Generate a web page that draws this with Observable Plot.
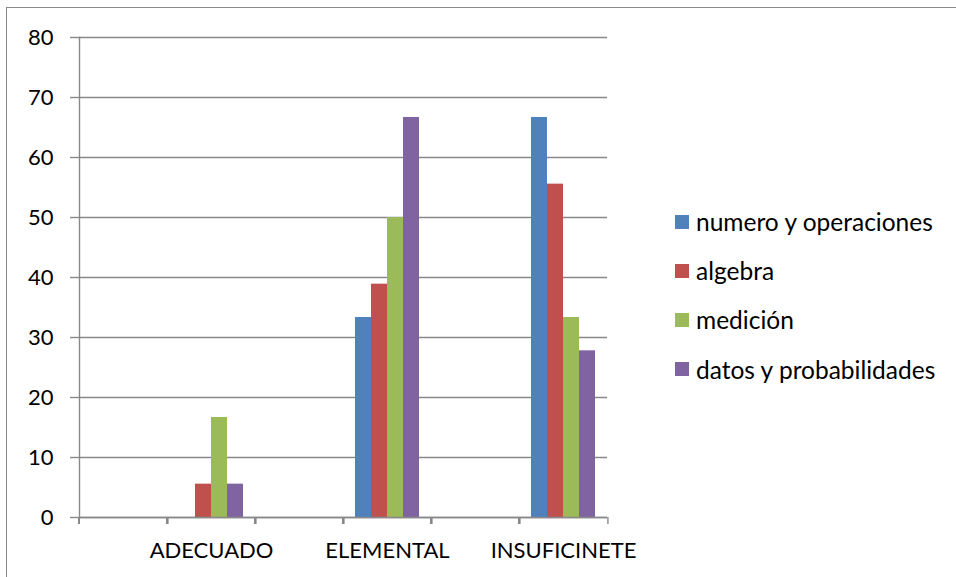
<!DOCTYPE html>
<html>
<head>
<meta charset="utf-8">
<script src="https://cdn.jsdelivr.net/npm/d3@7"></script>
<script src="https://cdn.jsdelivr.net/npm/@observablehq/plot@0.6"></script>
<style>
  html, body { margin: 0; padding: 0; background: #fff; }
  #wrap { position: relative; width: 956px; height: 577px; overflow: hidden; font-family: Lato, "Open Sans", sans-serif; }
  #border { position: absolute; left: 6px; top: 7px; width: 960px; height: 580px; border-left: 1.5px solid #8a8a8a; border-top: 1.5px solid #8a8a8a; box-sizing: border-box; }
  #chart { position: absolute; left: 0; top: 0; }
  #legend { position: absolute; left: 675px; top: 197px; font-size: 24.5px; color: #000; }
  .item { display: flex; align-items: center; height: 49.2px; white-space: nowrap; }
  .sw { width: 14px; height: 14px; margin-right: 7px; }
</style>
</head>
<body>
<div id="wrap">
  <div id="border"></div>
  <div id="chart"></div>
  <div id="legend"></div>
</div>
<script>
// Category slots on the x axis (the source sheet had blank slots between the labelled ones)
const slots = ["blank1", "ADECUADO", "blank2", "ELEMENTAL", "blank3", "INSUFICINETE"];
const categories = ["ADECUADO", "ELEMENTAL", "INSUFICINETE"];
const series = ["numero y operaciones", "algebra", "medición", "datos y probabilidades"];
const colors = ["#4F81BD", "#C0504D", "#9BBB59", "#8064A2"];

const numero = [0, 33.33, 66.67];
const algebra = [5.56, 38.89, 55.56];
const medicion = [16.67, 50, 33.33];
const datos = [5.56, 66.67, 27.78];

const yTicks = [0, 10, 20, 30, 40, 50, 60, 70, 80];

const valuesBySeries = [numero, algebra, medicion, datos];
const data = [];
slots.forEach(slot => {
  const i = categories.indexOf(slot);
  series.forEach((s, j) => data.push({slot, series: s, value: i >= 0 ? valuesBySeries[j][i] : null}));
});

const W = 956, H = 577, ML = 76, MR = 347, MT = 37, MB = 60;
const bw = (W - ML - MR) / slots.length;
const gray = "#898989";

const chart = Plot.plot({
  width: W, height: H,
  marginLeft: ML, marginRight: MR, marginTop: MT, marginBottom: MB,
  style: {fontFamily: "Lato, 'Open Sans', sans-serif", fontSize: "22px", color: "#000", background: "transparent"},
  fx: {domain: slots, padding: 0, label: null},
  x: {domain: series, paddingInner: 0, paddingOuter: 0.73, axis: null},
  y: {domain: [0, 80], label: null},
  color: {domain: series, range: colors},
  marks: [
    Plot.gridY(yTicks, {stroke: gray, strokeOpacity: 1, strokeWidth: 1.4}),
    Plot.barY(data, {fx: "slot", x: "series", y: "value", fill: "series"}),
    Plot.ruleY([0], {stroke: gray, strokeWidth: 1.4}),
    Plot.frame({anchor: "left", facetAnchor: "left", stroke: gray, strokeWidth: 1.4}),
    Plot.axisY(yTicks, {tickSize: 9, tickPadding: 17, stroke: gray, strokeWidth: 1.4, fill: "#000", label: null, fontSize: 22}),
    Plot.axisFx({anchor: "bottom", tickSize: 0, tickPadding: 25, label: null, fontSize: 22, fill: "#000",
      tickFormat: d => categories.includes(d) ? d : ""}),
    Plot.axisFx(slots, {anchor: "bottom", tickSize: 7, text: null, dx: -bw / 2, stroke: gray, strokeWidth: 1.4, label: null}),
    Plot.axisFx([slots[slots.length - 1]], {anchor: "bottom", tickSize: 7, text: null, dx: bw / 2, stroke: gray, strokeWidth: 1.4, label: null})
  ]
});
document.getElementById("chart").appendChild(chart);

const legend = document.getElementById("legend");
series.forEach((s, i) => {
  const row = document.createElement("div");
  row.className = "item";
  const sw = document.createElement("span");
  sw.className = "sw";
  sw.style.background = colors[i];
  const t = document.createElement("span");
  t.textContent = s;
  row.appendChild(sw);
  row.appendChild(t);
  legend.appendChild(row);
});
</script>
</body>
</html>
